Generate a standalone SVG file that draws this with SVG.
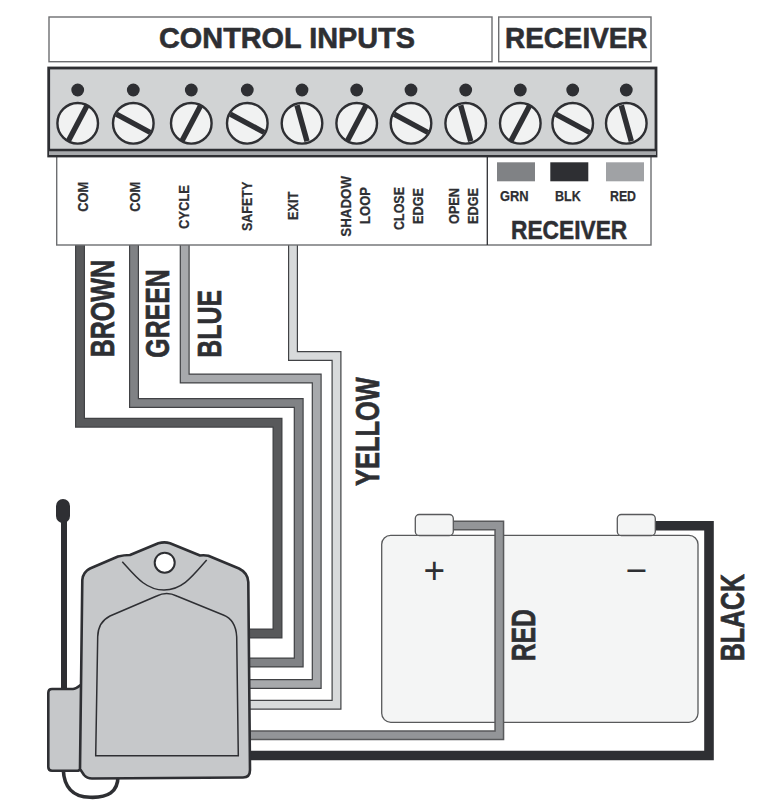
<svg xmlns="http://www.w3.org/2000/svg" xmlns:xlink="http://www.w3.org/1999/xlink" width="757" height="802" viewBox="0 0 757 802">
<style>
text{font-family:"Liberation Sans",Arial,sans-serif;font-weight:bold;fill:#2e2f33;stroke:#2e2f33;stroke-width:.25}
.t{font-size:15.5px}
.s{font-size:15px}
.w{font-size:33.5px;stroke-width:.7}
.h{font-size:30px;stroke-width:.6}
.box{fill:#fff;stroke:#6d6e71;stroke-width:1.4}
.edge{fill:none;stroke:#414245;stroke-width:10;stroke-linejoin:miter}
.brown{fill:none;stroke:#58595b;stroke-width:7.6}
.green{fill:none;stroke:#808285;stroke-width:7.6}
.blue{fill:none;stroke:#a7a9ac;stroke-width:7.6}
.yellow{fill:none;stroke:#d8dadb;stroke-width:7.6}
.red{fill:none;stroke:#939598;stroke-width:7}
.black{fill:none;stroke:#2e2f33;stroke-width:9.6}
.head{fill:#f1f2f2;stroke:#2e2f33;stroke-width:2.4}
.slot{stroke:#2e2f33;stroke-width:5.4}
.dot{fill:#2e2f33}
.dev{fill:#c6c8ca;stroke:#2e2f33;stroke-width:2.6;stroke-linejoin:round}
.thin{fill:none;stroke:#2e2f33;stroke-width:1.5}
.bat{fill:#f4f5f5;stroke:#58595b;stroke-width:1.3}
</style>
<defs>
<g id="a"><circle class="dot" cy="-33.3" r="6.4"/><circle class="head" r="20.3"/><line class="slot" x1="-9.5" y1="18" x2="9.5" y2="-18"/></g>
<g id="b"><circle class="dot" cy="-33.3" r="6.4"/><circle class="head" r="20.3"/><line class="slot" x1="-17" y1="-9.2" x2="17" y2="9.2"/></g>
<g id="c"><circle class="dot" cy="-33.3" r="6.4"/><circle class="head" r="20.3"/><line class="slot" x1="-5" y1="-18" x2="5" y2="18"/></g>
</defs>

<g id="battery">
<rect class="bat" x="381.7" y="535.3" width="316.3" height="187" rx="9"/>
<text x="434.3" y="583" text-anchor="middle" style="font-size:37px;font-weight:normal;stroke-width:0">+</text>
<text x="636.2" y="583" text-anchor="middle" style="font-size:37px;font-weight:normal;stroke-width:0">−</text>
</g>

<g id="connectors">
<path class="edge" d="M80 240V422.7H277.5V633.5H245"/><path class="brown" d="M80 240V422.7H277.5V633.5H245"/>
<path class="edge" d="M134 240V403H298.7V662.5H245"/><path class="green" d="M134 240V403H298.7V662.5H245"/>
<path class="edge" d="M184.7 240V378.5H316.7V684H245"/><path class="blue" d="M184.7 240V378.5H316.7V684H245"/>
<path class="edge" d="M293 240V356H336.5V704.7H245"/><path class="yellow" d="M293 240V356H336.5V704.7H245"/>
<path class="edge" style="stroke:#58595b" d="M450 525.5H499.3V735.3H245"/><path class="red" d="M450 525.5H499.3V735.3H245"/>
<path class="black" d="M650 525.7H709V755.5H245"/>
</g>

<g id="battery-terminals">
<rect class="bat" x="415.3" y="514.5" width="38" height="21" rx="4"/>
<rect class="bat" x="617.3" y="514.5" width="38" height="21" rx="4"/>
</g>

<g id="control-inputs-header">
<rect class="box" x="49" y="17" width="443" height="44.7"/>
<text class="h" x="159" y="47.7" textLength="256" lengthAdjust="spacingAndGlyphs">CONTROL INPUTS</text>
</g>
<g id="receiver-header">
<rect class="box" x="498.7" y="17" width="152.3" height="44.7"/>
<text class="h" x="505" y="47.7" textLength="142.5" lengthAdjust="spacingAndGlyphs">RECEIVER</text>
</g>

<g id="label-panel">
<rect class="box" x="56.7" y="150" width="594.3" height="95"/>
<line x1="487.3" y1="155" x2="487.3" y2="245" stroke="#2e2f33" stroke-width="1.3"/>
<text class="t" transform="translate(87.7 211.7) rotate(-90)" textLength="30" lengthAdjust="spacingAndGlyphs">COM</text>
<text class="t" transform="translate(140 211.7) rotate(-90)" textLength="30" lengthAdjust="spacingAndGlyphs">COM</text>
<text class="t" transform="translate(189 229) rotate(-90)" textLength="44" lengthAdjust="spacingAndGlyphs">CYCLE</text>
<text class="t" transform="translate(252.3 231) rotate(-90)" textLength="49.3" lengthAdjust="spacingAndGlyphs">SAFETY</text>
<text class="t" transform="translate(298.3 220) rotate(-90)" textLength="28.3" lengthAdjust="spacingAndGlyphs">EXIT</text>
<text class="t" transform="translate(350.7 236.7) rotate(-90)" textLength="60.7" lengthAdjust="spacingAndGlyphs">SHADOW</text>
<text class="t" transform="translate(370 224) rotate(-90)" textLength="37" lengthAdjust="spacingAndGlyphs">LOOP</text>
<text class="t" transform="translate(404 230) rotate(-90)" textLength="43" lengthAdjust="spacingAndGlyphs">CLOSE</text>
<text class="t" transform="translate(422.7 224) rotate(-90)" textLength="36" lengthAdjust="spacingAndGlyphs">EDGE</text>
<text class="t" transform="translate(459.3 224) rotate(-90)" textLength="36" lengthAdjust="spacingAndGlyphs">OPEN</text>
<text class="t" transform="translate(478.3 224) rotate(-90)" textLength="36" lengthAdjust="spacingAndGlyphs">EDGE</text>
<rect x="497" y="162.3" width="38" height="19" fill="#808285"/>
<rect x="550.3" y="162.3" width="38" height="19" fill="#2e2f33"/>
<rect x="606" y="162.3" width="38" height="19" fill="#a0a2a5"/>
<text class="s" x="500" y="201.3" textLength="28.7" lengthAdjust="spacingAndGlyphs">GRN</text>
<text class="s" x="555" y="201.3" textLength="25.7" lengthAdjust="spacingAndGlyphs">BLK</text>
<text class="s" x="610" y="201.3" textLength="26" lengthAdjust="spacingAndGlyphs">RED</text>
<text x="511" y="238.7" style="font-size:25.5px;stroke-width:.5" textLength="116.3" lengthAdjust="spacingAndGlyphs">RECEIVER</text>
</g>

<g id="terminal-block">
<rect x="48.7" y="68" width="607.3" height="88" fill="#d1d3d4" stroke="#2e2f33" stroke-width="2.8"/>
<rect x="49" y="151" width="607" height="4" fill="#a7a9ac"/>
<line x1="48" y1="150" x2="656" y2="150" stroke="#2e2f33" stroke-width="2.6"/>
<use xlink:href="#a" href="#a" x="77.7" y="123.3"/>
<use xlink:href="#b" href="#b" x="133.3" y="123.3"/>
<use xlink:href="#a" href="#a" x="191.3" y="123.3"/>
<use xlink:href="#b" href="#b" x="247.3" y="123.3"/>
<use xlink:href="#c" href="#c" x="302" y="123.3"/>
<use xlink:href="#a" href="#a" x="356.7" y="123.3"/>
<use xlink:href="#b" href="#b" x="411" y="123.3"/>
<use xlink:href="#c" href="#c" x="465.7" y="123.3"/>
<use xlink:href="#a" href="#a" x="520.3" y="123.3"/>
<use xlink:href="#b" href="#b" x="572.7" y="123.3"/>
<use xlink:href="#c" href="#c" x="626.3" y="123.3"/>
</g>

<g id="wire-labels">
<text class="w" transform="translate(114 357.3) rotate(-90)" textLength="97.3" lengthAdjust="spacingAndGlyphs">BROWN</text>
<text class="w" transform="translate(169 357.7) rotate(-90)" textLength="88.4" lengthAdjust="spacingAndGlyphs">GREEN</text>
<text class="w" transform="translate(221.3 357.7) rotate(-90)" textLength="67.7" lengthAdjust="spacingAndGlyphs">BLUE</text>
<text class="w" transform="translate(379.3 486) rotate(-90)" textLength="108.7" lengthAdjust="spacingAndGlyphs">YELLOW</text>
<text class="w" transform="translate(535.3 661.3) rotate(-90)" textLength="52.3" lengthAdjust="spacingAndGlyphs">RED</text>
<text class="w" transform="translate(744 661.3) rotate(-90)" textLength="87.3" lengthAdjust="spacingAndGlyphs">BLACK</text>
</g>

<g id="receiver-device">
<path d="M63.3 770C64 786 72 797 90 797.3C108 798 118 792 118 776" fill="none" stroke="#2e2f33" stroke-width="3.6"/>
<line x1="64" y1="518" x2="64" y2="692" stroke="#2e2f33" stroke-width="6"/>
<rect x="56" y="499" width="14" height="24" rx="7" fill="#2e2f33"/>
<path class="dev" d="M52 689H73C77 689 79 686 82 684L84 768L78 770.7H52Q48.3 770.7 48.3 767V693Q48.3 689 52 689Z"/>
<path class="dev" d="M82.3 580Q83 572 90 568.5L118 556.5Q124 555 130 555L158.3 543.3Q164.5 541.5 170 543.3L200 555.5Q204 555 208.3 555.7L239 568.5Q248 573 248.3 582L250 770Q250 777.5 243 777.5L92 778.5Q87 778.5 84 775L80 769Z"/>
<circle cx="164.7" cy="562.7" r="10" fill="#fff" stroke="#2e2f33" stroke-width="2"/>
<path class="thin" d="M122.3 561.7C136 577 146 590 164 590C182 590 192 577 206.7 560"/>
<path class="thin" d="M95.7 755.7H238.3L236.7 636.7C236 624 231 618 223.3 615L176.7 596Q166.7 591 156.7 596L110 616C102 620 98 626 97.7 636.7Z"/>
</g>
</svg>
